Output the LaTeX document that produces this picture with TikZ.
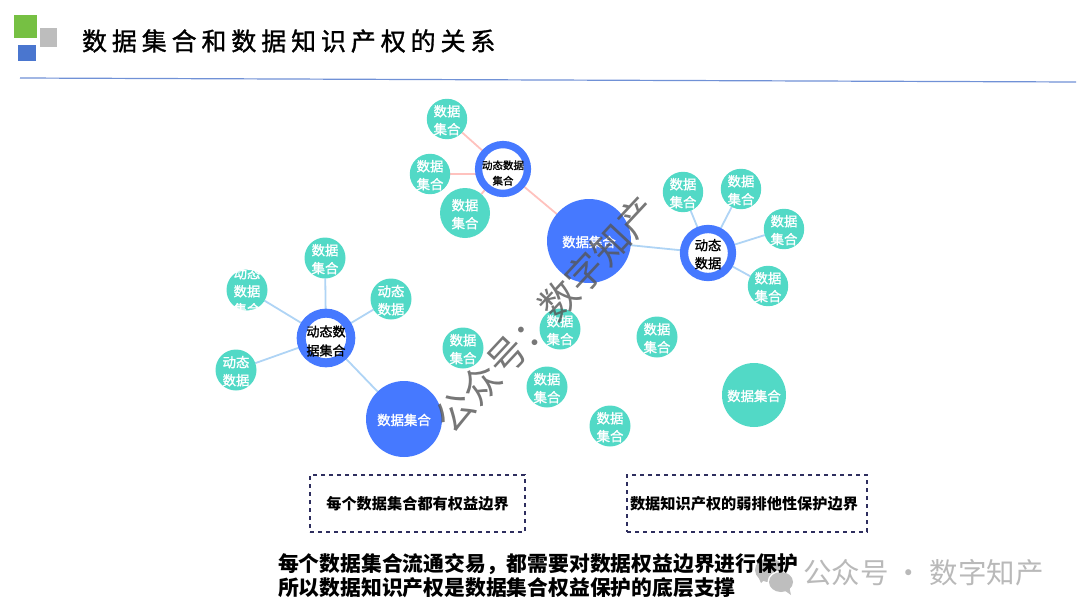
\documentclass[tikz,border=0pt]{standalone}
\usepackage{fontspec}
\setmainfont{Noto Sans CJK SC}
\newfontfamily\titlefont[LetterSpace=19.5,FakeBold=1.2]{Noto Sans CJK SC}
\newfontfamily\medfont[FakeBold=1.4]{Noto Sans CJK SC}
\newcommand\lb[2][1.2]{\raisebox{-#1pt}[\height][\depth]{#2}}
\usetikzlibrary{backgrounds}
\definecolor{teal1}{HTML}{52D9C6}
\definecolor{blue1}{HTML}{4679FF}
\definecolor{edgeblue}{HTML}{AFD4F5}
\definecolor{edgepink}{HTML}{FFC2BE}
\definecolor{navy1}{HTML}{2E2E5E}
\tikzset{
  x=1pt,y=-1pt,
  every node/.style={inner sep=0pt,outer sep=0pt,align=center},
  leaf/.style={circle,fill=teal1,minimum size=41pt,text=white,font=\medfont\fontsize{13.4}{18}\selectfont},
  bigblue/.style={circle,fill=blue1,text=white,font=\medfont\fontsize{13.4}{18}\selectfont},
  hub/.style={circle,fill=white,draw=blue1,text=black,font=\medfont\fontsize{13}{19}\selectfont},
  blueedge/.style={draw=edgeblue,line width=1.8pt},
  pinkedge/.style={draw=edgepink,line width=1.8pt},
  dashbox/.style={draw=navy1,line width=1.5pt,dash pattern=on 4pt off 4pt,font=\fontsize{15.2}{18}\selectfont\bfseries,text=black},
  bottomline/.style={anchor=west,text=black,font=\fontsize{20.8}{24}\selectfont\bfseries},
}
\begin{document}
\begin{tikzpicture}
\useasboundingbox (0,0) rectangle (1080,616);
% logo
\fill[color={rgb,255:red,118;green,192;blue,67}] (14,15) rectangle (37,38);
\fill[color={rgb,255:red,189;green,189;blue,189}] (40,28) rectangle (57,47);
\fill[color={rgb,255:red,74;green,118;blue,207}] (18,45) rectangle (36,61);
\node[anchor=west,font=\titlefont\fontsize{25}{30}\selectfont] (title) at (82,41) {数据集合和数据知识产权的关系};
\coordinate (ruleL) at (20,78);
\coordinate (ruleR) at (1076,82);
\draw[color={rgb,255:red,112;green,145;blue,214},line width=1.2pt] (ruleL) -- (ruleR);
% top cluster
\node[hub,minimum size=47.4pt,line width=7.3pt,font=\medfont\fontsize{10.5}{15.5}\selectfont] (h1) at (503,169) {\lb[4]{动态数据}\\\lb[4]{集合}};
\node[leaf,minimum size=39pt] (a1) at (447,119) {\lb{数据}\\\lb{集合}};
\node[leaf,minimum size=39pt] (a2) at (430,174) {\lb{数据}\\\lb{集合}};
\node[leaf,minimum size=50pt] (a3) at (465,213) {\lb{数据}\\\lb{集合}};
\node[bigblue,minimum size=84pt] (b1) at (589,241) {\lb[1]{数据集合}};
% right cluster
\node[hub,minimum size=48pt,line width=8.3pt,font=\medfont\fontsize{13.3}{18}\selectfont] (h2) at (708,253) {\lb{动态}\\\lb{数据}};
\node[leaf,minimum size=40pt] (c1) at (683,192) {\lb{数据}\\\lb{集合}};
\node[leaf,minimum size=40pt] (c2) at (741,189) {\lb{数据}\\\lb{集合}};
\node[leaf,minimum size=40pt] (c3) at (784,229) {\lb{数据}\\\lb{集合}};
\node[leaf,minimum size=40pt] (c4) at (768,286) {\lb{数据}\\\lb{集合}};
% left cluster
\node[hub,minimum size=49pt,line width=9pt] (h3) at (326,338) {\lb[3]{动态数}\\\lb[3]{据集合}};
\node[leaf] (d1) at (325,258) {\lb{数据}\\\lb{集合}};
\node[leaf] (d2) at (247,290) {};
\node[leaf,fill=none] (d2t) at (d2) {\lb{动态}\\\lb{数据}\\\lb{集合}};
\node[leaf] (d3) at (391,299) {\lb{动态}\\\lb{数据}};
\node[leaf] (d4) at (236,370) {\lb{动态}\\\lb{数据}};
\node[bigblue,minimum size=76pt] (b2) at (404,419) {\lb[1]{数据集合}};
% free nodes
\node[leaf] (e1) at (463,348) {\lb{数据}\\\lb{集合}};
\node[leaf] (e2) at (560,329) {\lb{数据}\\\lb{集合}};
\node[leaf] (e3) at (657,337) {\lb{数据}\\\lb{集合}};
\node[leaf] (e4) at (547,387) {\lb{数据}\\\lb{集合}};
\node[leaf] (e5) at (610,426) {\lb{数据}\\\lb{集合}};
\node[leaf,minimum size=64pt] (e6) at (754,395) {\lb[1]{数据集合}};
% connectors
\begin{scope}[on background layer]
\draw[pinkedge] (h1) -- (a1);
\draw[pinkedge] (a2) -- (a2 -| h1);
\draw[pinkedge] (h1) -- (a3);
\draw[pinkedge] (h1) -- (b1);
\draw[blueedge] (b1) -- (h2);
\draw[blueedge] (h2) -- (c1);
\draw[blueedge] (h2) -- (c2);
\draw[blueedge] (h2) -- (c3);
\draw[blueedge] (h2) -- (c4);
\draw[blueedge] (h3) -- (d1);
\draw[blueedge] (h3) -- (d2);
\draw[blueedge] (h3) -- (d3);
\draw[blueedge] (h3) -- (d4);
\draw[blueedge] (h3) -- (b2);
\end{scope}
% boxes
\node[dashbox,minimum width=215pt,minimum height=57pt] (box1) at (417.5,503.5) {每个数据集合都有权益边界};
\node[dashbox,minimum width=240pt,minimum height=57pt] (box2) at (747,503.5) {\hspace*{-6pt}数据知识产权的弱排他性保护边界};
% corner watermark
\fill[color={rgb,255:red,190;green,190;blue,190}] (769,570) ellipse [x radius=14,y radius=12];
\fill[color={rgb,255:red,190;green,190;blue,190}] (757,574) -- (761,583) -- (766,578) -- cycle;
\fill[color=white] (781,582) ellipse [x radius=13.5,y radius=11.5];
\fill[color={rgb,255:red,190;green,190;blue,190}] (781,582) ellipse [x radius=12,y radius=10];
\fill[color={rgb,255:red,190;green,190;blue,190}] (784,590) -- (791,595) -- (789,586) -- cycle;
\node[anchor=west,text={rgb,255:red,185;green,185;blue,185},font=\fontsize{28.5}{32}\selectfont] (wm2) at (803,573) {公众号 · 数字知产};
% bottom text
\node[bottomline] (t1) at (278,564) {每个数据集合流通交易，都需要对数据权益边界进行保护};
\node[bottomline] (t2) at (278,588) {所以数据知识产权是数据集合权益保护的底层支撑};
% diagonal watermark
\node[rotate=47,text={rgb,255:red,85;green,85;blue,85},opacity=.8,font=\fontsize{38}{44}\selectfont] (wm1) at (546,314) {公众号：数字知产};
\end{tikzpicture}
\end{document}
